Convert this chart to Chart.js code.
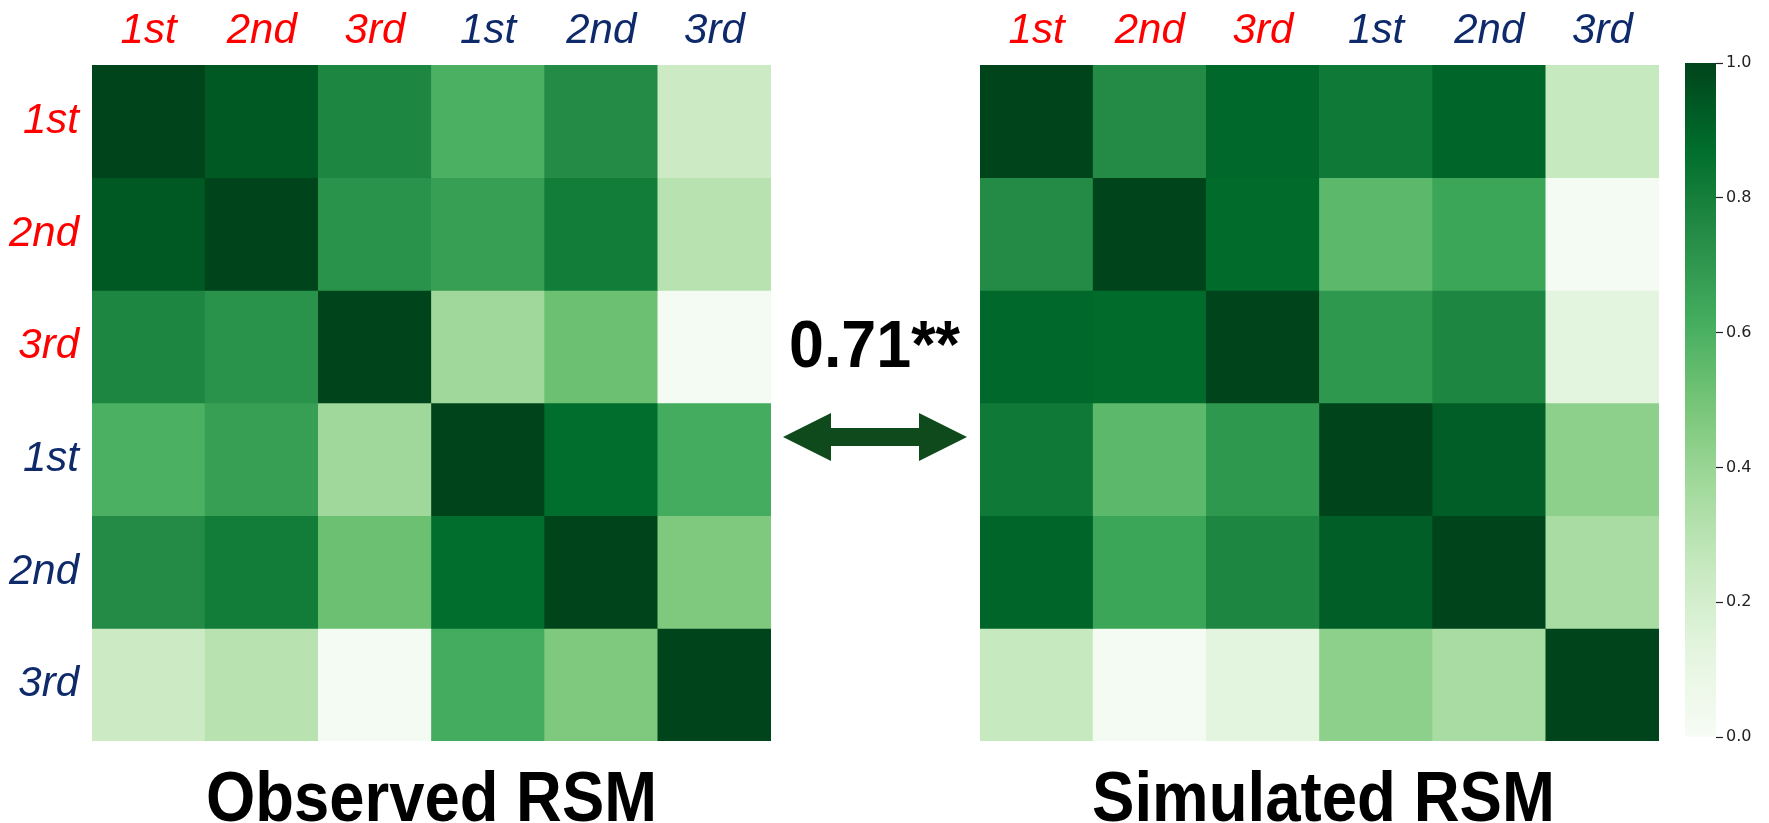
<!DOCTYPE html>
<html>
<head>
  <meta charset="utf-8">
  <title>Observed vs Simulated RSM</title>
  <script src="https://cdn.jsdelivr.net/npm/chart.js"></script>
  <style>
    html, body { margin: 0; padding: 0; background: #fff; }
    body { width: 1769px; height: 823px; position: relative; overflow: hidden; font-family: "Liberation Sans", Arial, sans-serif; }
    canvas { position: absolute; }
    #obsChart { left: 0; top: 0; }
    #simChart { left: 960px; top: 0; }
    #barChart { left: 1665px; top: 0; }
    .title { position: absolute; font-weight: bold; font-size: 70px; line-height: 70px; white-space: nowrap; transform-origin: left top; color: #000; }
    #corr { position: absolute; font-weight: bold; font-size: 66px; line-height: 66px; white-space: nowrap; transform-origin: left top; color: #000; }
    #arrow { position: absolute; left: 0; top: 0; }
  </style>
</head>
<body>

  <canvas id="obsChart" width="790" height="760"></canvas>
  <canvas id="simChart" width="720" height="760"></canvas>
  <canvas id="barChart" width="104" height="823"></canvas>

  <div class="title" id="obsTitle">Observed RSM</div>
  <div class="title" id="simTitle">Simulated RSM</div>
  <div id="corr">0.71**</div>
  <svg id="arrow" width="1769" height="823">
    <polygon points="783,437 831,413 831,428 919,428 919,413 967,437 919,461 919,446 831,446 831,461" fill="#0f4a1c"/>
  </svg>

  <script>
    const rowLabels = ['1st', '2nd', '3rd', '1st', '2nd', '3rd'];
    const colLabels = ['1st', '2nd', '3rd', '1st', '2nd', '3rd'];

    const observed = [
      [1.00, 0.94, 0.77, 0.60, 0.75, 0.23],
      [0.94, 1.00, 0.72, 0.67, 0.81, 0.30],
      [0.77, 0.72, 1.00, 0.38, 0.52, 0.02],
      [0.60, 0.67, 0.38, 1.00, 0.87, 0.62],
      [0.75, 0.81, 0.52, 0.87, 1.00, 0.47],
      [0.23, 0.30, 0.02, 0.62, 0.47, 1.00]
    ];
    const simulated = [
      [1.00, 0.75, 0.89, 0.82, 0.90, 0.25],
      [0.75, 1.00, 0.88, 0.56, 0.65, 0.02],
      [0.89, 0.88, 1.00, 0.70, 0.77, 0.13],
      [0.82, 0.56, 0.70, 1.00, 0.92, 0.43],
      [0.90, 0.65, 0.77, 0.92, 1.00, 0.35],
      [0.25, 0.02, 0.13, 0.43, 0.35, 1.00]
    ];
    const colorbarTicks = [0, 0.2, 0.4, 0.6, 0.8, 1.0];
    const correlation = '0.71**';

    // matplotlib "Greens"
    const greens = ['#f7fcf5','#e5f5e0','#c7e9c0','#a1d99b','#74c476','#41ab5d','#238b45','#006d2c','#00441b'];
    const hex = h => [1,3,5].map(i => parseInt(h.substr(i,2),16));
    function greenOf(v) {
      const t = Math.max(0, Math.min(1, v)) * (greens.length - 1);
      const i = Math.min(Math.floor(t), greens.length - 2), f = t - i;
      const a = hex(greens[i]), b = hex(greens[i+1]);
      return 'rgb(' + a.map((c,k)=>Math.round(c + (b[k]-c)*f)).join(',') + ')';
    }

    const RED = '#ff0000', NAVY = '#0f2a6b';
    const labelFont = { family: '"Liberation Sans", Arial, sans-serif', style: 'italic', size: 42 };
    const labelColor = ctx => ctx.index < 3 ? RED : NAVY;

    function heatmap(id, matrix, showRows, pad) {
      new Chart(document.getElementById(id), {
        type: 'bar',
        data: {
          labels: colLabels,
          datasets: matrix.map((row, r) => ({
            label: rowLabels[r],
            data: colLabels.map(() => 1),
            backgroundColor: row.map(greenOf),
            borderWidth: 0,
            barPercentage: 1,
            categoryPercentage: 1
          }))
        },
        options: {
          responsive: false,
          animation: false,
          devicePixelRatio: 1,
          layout: { padding: pad },
          plugins: { legend: { display: false }, tooltip: { enabled: false } },
          scales: {
            x: {
              position: 'top', stacked: true,
              grid: { display: false }, border: { display: false },
              ticks: { font: labelFont, color: labelColor, padding: 0, maxRotation: 0, autoSkip: false },
              afterFit: s => { s.height = 65; }
            },
            y: {
              stacked: true, reverse: true, min: 0, max: rowLabels.length,
              display: showRows,
              grid: { display: false }, border: { display: false },
              afterBuildTicks: s => { s.ticks = rowLabels.map((_, i) => ({ value: i + 0.5 })); },
              ticks: { font: labelFont, color: labelColor, padding: 5, autoSkip: false,
                       callback: (v, i) => rowLabels[i] },
              afterFit: s => {
                s.paddingTop = 0; s.paddingBottom = 0;
                if (showRows) s.width = 92;
              }
            }
          }
        }
      });
    }

    heatmap('obsChart', observed, true, { top: 0, left: 0, right: 19, bottom: 19 });
    heatmap('simChart', simulated, false, { top: 0, left: 20, right: 21, bottom: 19 });

    // colour bar
    new Chart(document.getElementById('barChart'), {
      type: 'bar',
      data: {
        labels: [''],
        datasets: [{
          data: [1],
          borderWidth: 0,
          barPercentage: 1,
          categoryPercentage: 1,
          backgroundColor: ctx => {
            const ca = ctx.chart.chartArea;
            if (!ca) return greens[4];
            const g = ctx.chart.ctx.createLinearGradient(0, ca.bottom, 0, ca.top);
            greens.forEach((c, i) => g.addColorStop(i / (greens.length - 1), c));
            return g;
          }
        }]
      },
      options: {
        responsive: false,
        animation: false,
        devicePixelRatio: 1,
        layout: { padding: { top: 63, left: 20, right: 0, bottom: 86 } },
        plugins: { legend: { display: false }, tooltip: { enabled: false } },
        scales: {
          x: { display: false },
          y: {
            position: 'right', min: 0, max: 1,
            afterBuildTicks: s => { s.ticks = colorbarTicks.map(v => ({ value: v })); },
            grid: { drawOnChartArea: false, tickLength: 7, tickColor: '#222', tickWidth: 1.2 },
            border: { display: false },
            ticks: { padding: 3, color: '#222', font: { family: '"DejaVu Sans", sans-serif', size: 16 },
                     callback: v => v.toFixed(1) },
            afterFit: s => { s.width = 53; s.paddingTop = 0; s.paddingBottom = 0; }
          }
        }
      }
    });

    // text blocks fitted to their width in the figure
    function place(id, text, left, top, width) {
      const el = document.getElementById(id);
      el.textContent = text;
      el.style.left = left + 'px';
      el.style.top = top + 'px';
      const w = el.getBoundingClientRect().width;
      el.style.transform = 'scaleX(' + (width / w) + ')';
    }
    place('obsTitle', 'Observed RSM', 206, 762, 451);
    place('simTitle', 'Simulated RSM', 1092, 762, 463);
    place('corr', correlation, 789, 311, 171);
  </script>

</body>
</html>
